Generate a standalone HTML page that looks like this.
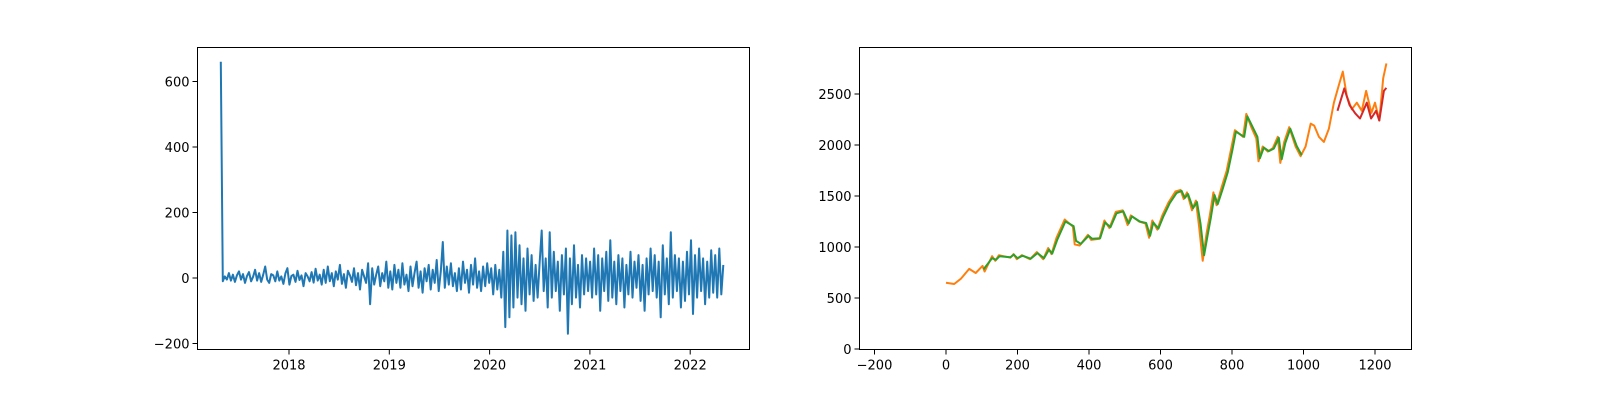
<!DOCTYPE html>
<html><head><meta charset="utf-8">
<style>
html,body{margin:0;padding:0;background:#fff;}
svg{display:block;font-family:"DejaVu Sans","Liberation Sans",sans-serif;font-size:13px;}
</style></head>
<body>
<svg id="fig" width="1600" height="400" viewBox="0 0 1600 400">
<rect width="1600" height="400" fill="#fff"/>
<g id="left"></g>
<g id="right"></g>
</svg>
<script>
// ---------- Left chart data ----------
const leftDateRange = [2017.32, 2022.33];
const leftYTicks = [-200, 0, 200, 400, 600];
const leftXTicks = [2018, 2019, 2020, 2021, 2022];
const leftValues = [660,
-10,5,-5,15,-8,10,-12,8,20,-5,12,-15,6,18,-10,4,25,-8,15,-12,10,35,-5,-15,12,8,-10,20,-8,5,-18,14,30,-20,6,10,-12,22,-6,8,-25,15,5,-10,18,-14,28,-8,
10,-20,25,-15,35,-10,15,-25,20,-5,40,-18,12,-30,22,8,-12,30,-22,15,-35,25,5,-15,45,-80,30,-20,10,35,-25,15,-10,50,-30,
20,-35,40,-15,25,-30,45,-20,10,-40,35,-25,15,50,-30,20,-45,30,-10,40,-35,25,-15,55,-40,20,110,-30,35,-20,45,-25,15,-40,30,-35,50,-15,25,-45,40,-20,60,-30,20,-40,35,-25,45,-15,30,-50,40,-35,25,
-60,80,-150,145,-120,130,-90,140,-60,100,-80,60,-100,90,-50,70,-70,40,-60,50,
145,-40,60,-90,140,-60,80,-40,50,-100,70,-50,90,-170,60,-80,100,-60,40,-90,70,-50,60,-40,50,
-60,90,-50,70,-100,60,-40,80,-70,115,-60,50,-80,70,-40,60,-90,40,-50,80,-60,50,-30,70,-70,40,-100,60,-50,90,-40,70,-60,50,-120,100,-50,60,-80,140,-60,70,-40,60,-90,50,-70,80,-50,115,-110,70,-60,90,-40,60,-80,50,-60,85,-45,70,-60,90,-50,40];

// ---------- Right chart data ----------
const rightXTicks = [-200, 0, 200, 400, 600, 800, 1000, 1200];
const rightYTicks = [0, 500, 1000, 1500, 2000, 2500];
const actualIdx = [0,23,42,65,83,102,108,129,138,148,180,189,198,212,235,254,272,286,295,309,332,355,360,374,397,406,429,443,457,475,494,508,517,540,558,568,577,591,605,623,642,656,665,674,688,699,708,718,729,738,748,757,771,785,798,808,831,840,854,868,874,886,900,914,928,935,946,960,978,992,1006,1020,1030,1043,1057,1071,1085,1098,1110,1121,1135,1149,1163,1175,1190,1200,1212,1223,1232];
const actualVal = [650,637,690,785,745,815,760,910,865,920,895,930,880,920,880,950,880,990,930,1090,1270,1200,1025,1015,1120,1070,1080,1260,1185,1345,1360,1215,1310,1250,1230,1090,1260,1170,1310,1440,1545,1560,1470,1535,1360,1455,1200,865,1135,1310,1535,1410,1585,1745,1970,2145,2080,2305,2175,2065,1840,1985,1935,1970,2080,1825,2030,2175,1985,1890,1985,2210,2190,2080,2030,2160,2415,2575,2720,2480,2350,2415,2335,2530,2315,2415,2240,2655,2800];
const trainIdx = [105,129,140,150,180,190,200,214,237,256,274,288,297,311,334,357,364,377,399,409,431,445,460,477,496,511,520,542,560,571,580,594,608,626,645,659,668,677,691,702,712,722,732,741,751,760,774,788,801,811,834,843,857,871,878,889,903,917,931,939,949,963,981,995];
const trainVal = [780,890,875,910,900,925,890,915,885,940,890,975,935,1070,1250,1205,1060,1030,1110,1080,1085,1240,1195,1330,1350,1230,1300,1250,1235,1110,1240,1180,1300,1430,1530,1550,1480,1520,1380,1440,1230,920,1120,1290,1510,1420,1570,1730,1950,2130,2080,2280,2180,2080,1870,1975,1940,1965,2070,1860,2020,2160,1990,1900];
const testIdx = [1095,1114,1129,1145,1158,1177,1189,1203,1212,1225,1232];
const testVal = [2335,2555,2390,2310,2260,2415,2260,2335,2240,2530,2560];

const NS = "http://www.w3.org/2000/svg";
function mk(tag, attrs, parent){const e=document.createElementNS(NS,tag);for(const k in attrs)e.setAttribute(k,attrs[k]);parent.appendChild(e);return e;}

function drawAxes(g, box, xs, ys, xTicks, yTicks, prefix){
  for(const t of yTicks){
    const y=ys(t);
    const tk=mk('line',{x1:box.x0-5,x2:box.x0,y1:y,y2:y,stroke:'#000','stroke-width':1},g);
    
    
    const tx=mk('text',{x:box.x0-8,y:y+5,'text-anchor':'end',fill:'#000'},g);
    tx.textContent=(t<0?'\u2212'+(-t):t);
    
    
  }
  for(const t of xTicks){
    const x=xs(t);
    const tk=mk('line',{x1:x,x2:x,y1:box.y1,y2:box.y1+5,stroke:'#000','stroke-width':1},g);
    
    
    const tx=mk('text',{x:x,y:box.y1+20,'text-anchor':'middle',fill:'#000'},g);
    tx.textContent=(t<0?'\u2212'+(-t):t);
    
    
  }
}
function frame(g, box, prefix){
  const r=mk('rect',{x:box.x0,y:box.y0,width:box.x1-box.x0,height:box.y1-box.y0,fill:'none',stroke:'#000','stroke-width':1},g);
  
  
}
function line(g, pts, color, name, clip){
  const p=mk('polyline',{points:pts.map(q=>q[0].toFixed(1)+','+q[1].toFixed(1)).join(' '),fill:'none',stroke:color,'stroke-width':2,'stroke-linejoin':'round'},g);
  if(clip) p.setAttribute('clip-path',clip);
  
  
}

// Left
(function(){
  const g=document.getElementById('left');
  const box={x0:197.5,x1:749.5,y0:47.5,y1:349.5};
  const xs=v=>289+(v-2018)*100.3;
  const ys=v=>278-v*0.3275;
  const n=leftValues.length;
  const pts=leftValues.map((v,i)=>[xs(leftDateRange[0]+(leftDateRange[1]-leftDateRange[0])*i/(n-1)),ys(v)]);
  line(g,pts,'#1f77b4','diff-series-line');
  drawAxes(g,box,xs,ys,leftXTicks,leftYTicks,'left');
  frame(g,box,'left');
})();

// Right
(function(){
  const g=document.getElementById('right');
  const box={x0:859.5,x1:1411.5,y0:47.5,y1:349.5};
  const xs=v=>946+v*0.3575;
  const ys=v=>349-v*0.102;
  line(g,actualIdx.map((v,i)=>[xs(v),ys(actualVal[i])]),'#ff7f0e','actual-price-line');
  line(g,trainIdx.map((v,i)=>[xs(v),ys(trainVal[i])]),'#2ca02c','train-prediction-line');
  line(g,testIdx.map((v,i)=>[xs(v),ys(testVal[i])]),'#d62728','test-prediction-line');
  drawAxes(g,box,xs,ys,rightXTicks,rightYTicks,'right');
  frame(g,box,'right');
})();
</script>
</body></html>
